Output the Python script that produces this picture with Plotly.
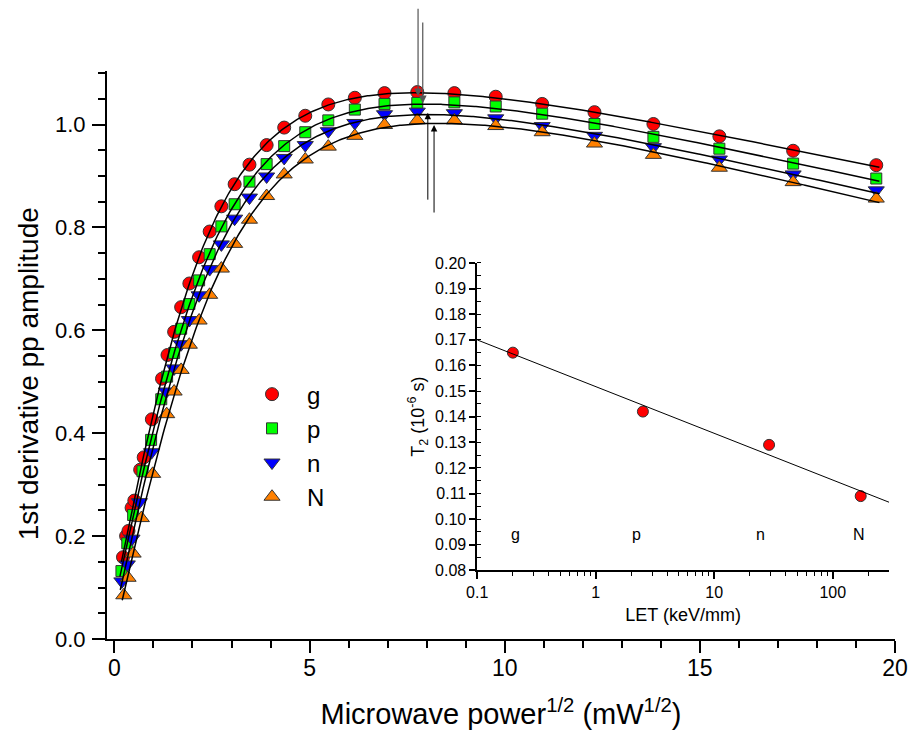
import numpy as np
import plotly.graph_objects as go

# ---------------- main panel data (x = sqrt(power) in mW^1/2) ----------------
g_x = [0.22, 0.30, 0.36, 0.44, 0.51, 0.66, 0.75, 0.96, 1.22, 1.36, 1.53, 1.71, 1.92, 2.17, 2.44, 2.74,
       3.08, 3.46, 3.90, 4.35, 4.89, 5.48, 6.16, 6.92, 7.76, 8.71, 9.77, 10.96, 12.30, 13.81, 15.50, 17.39, 19.52]
g_y = [0.159, 0.200, 0.210, 0.255, 0.269, 0.329, 0.353, 0.427, 0.506, 0.552, 0.597, 0.645, 0.691, 0.742, 0.792, 0.841,
       0.884, 0.922, 0.960, 0.994, 1.017, 1.039, 1.052, 1.061, 1.063, 1.061, 1.054, 1.040, 1.024, 1.001, 0.977, 0.949, 0.921]

p_x = [0.18, 0.33, 0.48, 0.72, 0.94, 1.20, 1.35, 1.53, 1.71, 1.92, 2.17, 2.44, 2.74, 3.08, 3.46, 3.90,
       4.35, 4.89, 5.48, 6.16, 6.92, 7.76, 8.71, 9.77, 10.96, 12.30, 13.81, 15.50, 17.39, 19.52]
p_y = [0.132, 0.186, 0.241, 0.326, 0.387, 0.466, 0.510, 0.556, 0.603, 0.651, 0.697, 0.748, 0.802, 0.845, 0.889, 0.923,
       0.958, 0.985, 1.008, 1.029, 1.040, 1.042, 1.043, 1.035, 1.021, 1.001, 0.976, 0.953, 0.924, 0.895]

n_x = [0.19, 0.33, 0.45, 0.64, 0.95, 1.33, 1.53, 1.71, 1.92, 2.17, 2.44, 2.74, 3.08, 3.46, 3.90,
       4.35, 4.89, 5.48, 6.16, 6.92, 7.76, 8.71, 9.77, 10.96, 12.30, 13.81, 15.50, 17.39, 19.52]
n_y = [0.112, 0.145, 0.195, 0.266, 0.363, 0.481, 0.526, 0.573, 0.620, 0.668, 0.719, 0.767, 0.817, 0.858, 0.899,
       0.935, 0.960, 0.987, 1.003, 1.020, 1.025, 1.022, 1.012, 0.997, 0.978, 0.956, 0.932, 0.903, 0.872]

N_x = [0.24, 0.35, 0.48, 0.69, 0.98, 1.34, 1.53, 1.71, 1.92, 2.17, 2.44, 2.74, 3.08, 3.46, 3.90,
       4.35, 4.89, 5.48, 6.16, 6.92, 7.76, 8.71, 9.77, 10.96, 12.30, 13.81, 15.50, 17.39, 19.52]
N_y = [0.085, 0.119, 0.166, 0.235, 0.321, 0.437, 0.481, 0.523, 0.572, 0.619, 0.669, 0.720, 0.768, 0.815, 0.861,
       0.903, 0.932, 0.957, 0.978, 0.999, 1.008, 1.008, 0.997, 0.985, 0.963, 0.941, 0.916, 0.888, 0.856]

series_names = ["g", "p", "n", "N"]

# peak-marking arrows (x, tail y, head y)
arrow_down_x = [7.78, 7.90]
arrow_down_tail = [1.228, 1.201]
arrow_down_head = [1.055, 1.041]
arrow_up_x = [8.03, 8.19]
arrow_up_tail = [0.851, 0.826]
arrow_up_head = [1.023, 0.999]

# ---------------- inset data ----------------
LET = [0.2, 2.5, 29.0, 172.0]
T2 = [0.165, 0.142, 0.129, 0.109]
inset_labels = ["g", "p", "n", "N"]
inset_label_x = [0.21, 2.2, 24.5, 165.0]
inset_label_y = 0.094

FONT = "Arial, Liberation Sans, sans-serif"


def fit_saturation(x, y):
    """Least-squares fit of y = d + (a x + e x^2) / (1 + b x^2)^c (grid over b, c)."""
    x = np.asarray(x, float)
    y = np.asarray(y, float)
    bs = np.logspace(-3, 0.5, 160)
    cs = np.linspace(0.3, 3.0, 160)
    B, C = np.meshgrid(bs, cs, indexing="ij")
    den = (1 + B[..., None] * x ** 2) ** C[..., None]
    F = np.stack([x / den, x ** 2 / den, np.ones_like(den)], axis=-1)  # (nb, nc, n, 3)
    M = np.einsum("...ni,...nj->...ij", F, F) + 1e-10 * np.eye(3)
    v = np.einsum("...ni,n->...i", F, y)
    sol = np.linalg.solve(M, v[..., None])[..., 0]
    pred = np.einsum("...ni,...i->...n", F, sol)
    res = ((pred - y) ** 2).sum(-1)
    i = np.unravel_index(np.argmin(res), res.shape)
    b, c = B[i], C[i]
    a, e, d = sol[i]
    xs = np.linspace(x.min() - 0.04, x.max() + 0.08, 500)
    return xs, d + (a * xs + e * xs ** 2) / (1 + b * xs ** 2) ** c


fig = go.Figure()

styles = [
    dict(symbol="circle", color="#FF0000", size=13),
    dict(symbol="square", color="#00FF00", size=11),
    dict(symbol="triangle-down", color="#0000FF", size=14),
    dict(symbol="triangle-up", color="#FF8000", size=14),
]
data = [(g_x, g_y), (p_x, p_y), (n_x, n_y), (N_x, N_y)]

for (xx, yy), name, st in zip(data, series_names, styles):
    fig.add_trace(go.Scatter(
        x=xx, y=yy, mode="markers", name=name,
        marker=dict(symbol=st["symbol"], color=st["color"], size=st["size"],
                    line=dict(color="#333333", width=1)),
        xaxis="x", yaxis="y"))

for (xx, yy) in data:
    xs, ys = fit_saturation(xx, yy)
    fig.add_trace(go.Scatter(x=xs, y=ys, mode="lines", line=dict(color="black", width=1.5),
                             showlegend=False, hoverinfo="skip", xaxis="x", yaxis="y"))

# inset
fig.add_trace(go.Scatter(x=LET, y=T2, mode="markers", showlegend=False,
                         marker=dict(symbol="circle", color="#FF0000", size=11,
                                     line=dict(color="#333333", width=1)),
                         xaxis="x2", yaxis="y2"))
coef = np.polyfit(np.log10(LET), T2, 1)
lx = np.logspace(-1, 2.475, 50)
fig.add_trace(go.Scatter(x=lx, y=np.polyval(coef, np.log10(lx)), mode="lines",
                         line=dict(color="black", width=1), showlegend=False,
                         hoverinfo="skip", xaxis="x2", yaxis="y2"))

annotations = []
for xa, t, h in zip(arrow_down_x, arrow_down_tail, arrow_down_head):
    annotations.append(dict(x=xa, y=h, ax=xa, ay=t, xref="x", yref="y", axref="x", ayref="y",
                            text="", showarrow=True, arrowhead=2, arrowsize=1.3, arrowwidth=1.2,
                            arrowcolor="#555555", standoff=0))
for xa, t, h in zip(arrow_up_x, arrow_up_tail, arrow_up_head):
    annotations.append(dict(x=xa, y=h, ax=xa, ay=t, xref="x", yref="y", axref="x", ayref="y",
                            text="", showarrow=True, arrowhead=2, arrowsize=1.3, arrowwidth=1,
                            arrowcolor="black", standoff=0))
for lab, lxv in zip(inset_labels, inset_label_x):
    annotations.append(dict(x=np.log10(lxv), y=inset_label_y, xref="x2", yref="y2", text=lab,
                            showarrow=False, font=dict(family=FONT, size=16, color="black")))
# main y-axis title (placed as annotation to match the reference position)
annotations.append(dict(x=-0.0992, y=0.4676, xref="paper", yref="paper", text="1st derivative pp amplitude",
                        textangle=-90, showarrow=False, xanchor="center", yanchor="middle",
                        font=dict(family=FONT, size=28, color="black")))

fig.update_layout(
    width=920, height=737,
    margin=dict(l=107, r=17, t=71, b=95),
    paper_bgcolor="white", plot_bgcolor="white",
    font=dict(family=FONT, color="black"),
    showlegend=True,
    legend=dict(x=0.165, y=0.3406, xanchor="left", yanchor="middle",
                font=dict(family=FONT, size=24), bgcolor="rgba(0,0,0,0)",
                itemwidth=60),
    xaxis=dict(range=[-0.19, 20.0], domain=[0, 1], showline=True, linecolor="black", linewidth=2,
               showgrid=False, zeroline=False, ticks="outside", ticklen=12, tickwidth=2,
               tickcolor="black", dtick=5, tick0=0, ticklabelstandoff=-5,
               minor=dict(dtick=1, ticks="outside", ticklen=7, tickwidth=2, tickcolor="black", showgrid=False),
               tickfont=dict(size=23),
               title=dict(text="Microwave power<sup>1/2</sup> (mW<sup>1/2</sup>)",
                          font=dict(size=29), standoff=24)),
    yaxis=dict(range=[0, 1.104], domain=[0, 1], showline=True, linecolor="black", linewidth=2,
               showgrid=False, zeroline=False, ticks="outside", ticklen=13, tickwidth=2,
               tickcolor="black", dtick=0.2, tick0=0, tickformat=".1f", ticklabelstandoff=2,
               minor=dict(dtick=0.05, ticks="outside", ticklen=7, tickwidth=2, tickcolor="black", showgrid=False),
               tickfont=dict(size=22)),
    xaxis2=dict(type="log", range=[-1, 2.475], domain=[0.4698, 0.9925], anchor="y2",
                showline=True, linecolor="black", linewidth=1.5, showgrid=False, zeroline=False,
                ticks="outside", ticklen=7, tickwidth=1.5, tickcolor="black", dtick=1,
                minor=dict(dtick="D1", ticks="outside", ticklen=4, tickwidth=1, tickcolor="black", showgrid=False),
                tickfont=dict(size=16),
                title=dict(text="LET (keV/mm)", font=dict(size=18), standoff=8)),
    yaxis2=dict(range=[0.08, 0.20], domain=[0.1208, 0.6620], anchor="x2",
                showline=True, linecolor="black", linewidth=1.5, showgrid=False, zeroline=False,
                ticks="outside", ticklen=6, tickwidth=1.5, tickcolor="black", dtick=0.01, tick0=0.08,
                tickformat=".2f",
                minor=dict(dtick=0.005, ticks="inside", ticklen=4, tickwidth=1, tickcolor="black", showgrid=False),
                tickfont=dict(size=16),
                title=dict(text="T<sub>2</sub> (10<sup>-6</sup> s)", font=dict(size=18), standoff=6)),
    annotations=annotations,
)

# remove the default page margin so the 920x737 figure fills the window exactly
fig.write_html("out.html", config={"displayModeBar": False},
               post_script="document.body.style.margin='0';document.body.style.overflow='hidden';")
